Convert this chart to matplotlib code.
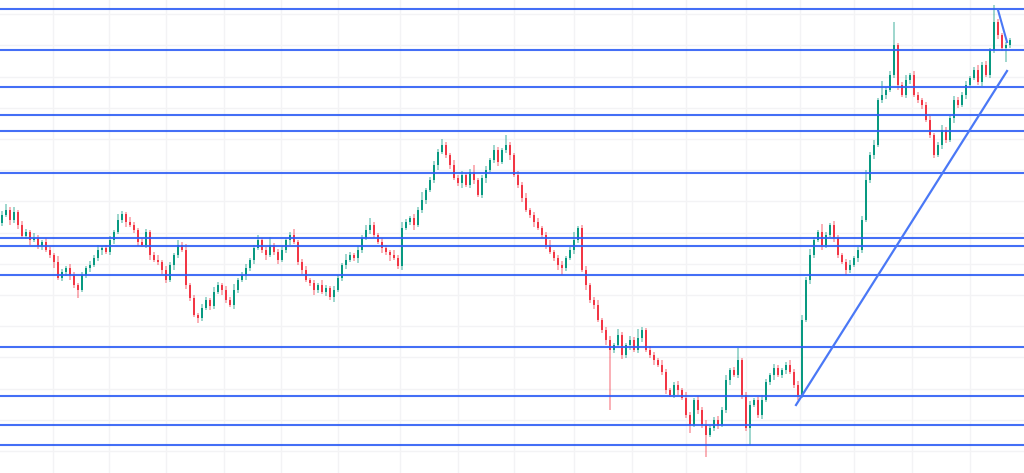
## Candlestick chart with support / resistance lines
import matplotlib.pyplot as plt
import numpy as np

# close prices, one per candle (open = previous close)
close = [258, 263, 253, 261, 248, 237, 241, 233, 235, 227,
         231, 223, 218, 211, 195, 201, 205, 198, 188, 183,
         198, 205, 208, 215, 223, 225, 221, 233, 241, 253,
         259, 251, 248, 243, 231, 228, 241, 218, 213, 211,
         203, 193, 208, 218, 228, 223, 188, 175, 158, 155,
         165, 173, 167, 181, 188, 183, 173, 168, 183, 193,
         198, 205, 213, 225, 233, 223, 218, 228, 221, 213,
         223, 233, 238, 231, 211, 203, 193, 190, 183, 188,
         181, 185, 176, 183, 195, 208, 213, 218, 215, 223,
         235, 243, 248, 238, 231, 225, 221, 218, 215, 207,
         245, 251, 255, 248, 263, 273, 283, 293, 308, 321,
         328, 318, 308, 295, 290, 298, 288, 301, 293, 278,
         295, 303, 313, 323, 311, 323, 328, 318, 298, 288,
         275, 263, 258, 251, 245, 238, 228, 221, 215, 208,
         205, 215, 223, 233, 245, 203, 188, 173, 168, 153,
         143, 133, 123, 128, 138, 118, 128, 133, 123, 135,
         143, 123, 118, 113, 108, 101, 83, 78, 88, 83,
         75, 58, 48, 73, 63, 48, 38, 45, 53, 48,
         63, 93, 103, 98, 113, 78, 45, 68, 73, 58,
         73, 91, 98, 105, 98, 103, 108, 101, 88, 78,
         153, 193, 218, 233, 241, 228, 238, 248, 235, 218,
         211, 203, 208, 215, 223, 253, 293, 318, 328, 373,
         378, 383, 398, 428, 388, 378, 393, 398, 378, 373,
         368, 353, 338, 318, 328, 343, 333, 355, 373, 368,
         378, 388, 395, 403, 391, 408, 398, 423, 451, 438,
         425, 428, 433]
first_open = 250

# wick lengths above / below the body
wick_up = [4, 6, 3, 5, 2, 4, 3, 2, 5, 3, 2, 4, 3, 2, 6, 3, 2, 4, 3, 2,
           3, 2, 4, 3, 5, 2, 3, 4, 2, 6, 3, 2, 5, 3, 2, 4, 3, 2, 3, 5,
           2, 4, 3, 2, 5, 3, 6, 2, 3, 2, 4, 3, 2, 5, 3, 2, 4, 3, 6, 2,
           3, 4, 2, 3, 5, 2, 3, 8, 2, 3, 4, 2, 3, 6, 2, 3, 4, 2, 3, 2,
           5, 3, 2, 4, 3, 2, 6, 3, 2, 4, 3, 5, 7, 3, 2, 4, 3, 2, 5, 3,
           6, 3, 2, 4, 3, 8, 2, 3, 4, 3, 6, 3, 2, 5, 3, 4, 2, 3, 7, 2,
           3, 4, 2, 5, 3, 2, 10, 3, 2, 4, 3, 5, 2, 3, 4, 2, 3, 5, 2, 3,
           4, 2, 3, 8, 2, 3, 4, 2, 3, 5, 2, 3, 4, 2, 6, 3, 2, 4, 3, 9,
           3, 2, 4, 3, 2, 5, 3, 2, 3, 4, 2, 6, 3, 2, 4, 3, 5, 2, 3, 4,
           3, 5, 2, 3, 12, 2, 3, 4, 2, 3, 5, 3, 2, 4, 3, 2, 3, 5, 3, 4,
           5, 3, 6, 3, 2, 8, 3, 2, 4, 3, 2, 3, 5, 2, 3, 4, 10, 3, 5, 2,
           14, 3, 4, 23, 2, 3, 5, 2, 4, 3, 2, 3, 4, 2, 3, 5, 3, 2, 4, 3,
           3, 4, 2, 3, 5, 3, 4, 2, 17, 3, 2, 3, 2]
wick_dn = [3, 2, 5, 3, 4, 2, 3, 5, 2, 3, 4, 2, 3, 6, 2, 3, 4, 5, 3, 8,
           2, 3, 4, 2, 3, 5, 2, 3, 4, 2, 3, 5, 2, 3, 4, 2, 3, 5, 2, 3,
           4, 3, 2, 5, 3, 2, 4, 3, 2, 5, 3, 2, 4, 3, 2, 5, 3, 2, 4, 3,
           2, 5, 3, 4, 2, 3, 5, 2, 3, 4, 2, 3, 5, 2, 3, 4, 2, 3, 5, 3,
           2, 4, 3, 5, 2, 3, 4, 2, 3, 5, 3, 2, 4, 3, 2, 5, 3, 6, 2, 3,
           4, 2, 3, 5, 2, 3, 4, 2, 3, 5, 2, 3, 4, 2, 3, 5, 2, 3, 4, 2,
           3, 5, 2, 3, 4, 2, 3, 5, 2, 3, 4, 2, 3, 5, 2, 3, 4, 2, 3, 5,
           7, 3, 2, 4, 3, 2, 5, 3, 4, 2, 3, 5, 60, 3, 2, 4, 3, 5, 2, 3,
           4, 2, 3, 5, 2, 3, 4, 2, 3, 5, 2, 3, 8, 2, 4, 3, 22, 2, 3, 4,
           2, 3, 5, 2, 3, 4, 3, 17, 2, 3, 4, 2, 3, 5, 2, 3, 4, 2, 3, 5,
           3, 2, 4, 3, 2, 5, 3, 2, 4, 3, 2, 5, 3, 2, 4, 3, 2, 3, 4, 2,
           3, 4, 2, 3, 5, 2, 3, 4, 2, 3, 4, 2, 3, 3, 2, 4, 3, 2, 5, 3,
           2, 4, 3, 2, 3, 4, 2, 3, 3, 4, 3, 14, 3]

# horizontal levels drawn on the chart
levels = [464, 423, 386, 358, 342, 300, 235, 227, 198, 126, 77, 48, 28]

# trendlines (candle index, price)
trend_x = [198.5, 251.25]
trend_y = [68, 402]
short_x = [249, 251.25]
short_y = [463, 431]

# faint time grid (candle index)
grid_x = [12.75, 26.75, 41, 55.5, 69.75, 84, 99.5, 114, 128, 143,
          157.5, 171, 186, 199.5, 213, 227.5, 242]

close = np.array(close, dtype=float)
opn = np.concatenate([[first_open], close[:-1]])
top = np.maximum(opn, close)
bot = np.minimum(opn, close)
high = top + np.array(wick_up)
low = bot - np.array(wick_dn)
idx = np.arange(len(close))

green = '#089981'
red = '#f23645'
cols = np.where(close >= opn, green, red)

fig = plt.figure(figsize=(10.24, 4.73), dpi=100)
ax = fig.add_axes([0, 0, 1, 1])

ax.vlines(idx, low, high, colors=cols, lw=1.1, alpha=0.5, zorder=2)
ax.bar(idx, np.maximum(top - bot, 1.0), bottom=bot, width=0.72,
       color=cols, linewidth=0, zorder=3)

for lv in levels:
    ax.axhline(lv, color='#2f5ff5', lw=1.5, alpha=0.9, zorder=4)

ax.plot(trend_x, trend_y, color='#4a78f6', lw=1.6, zorder=4)
ax.plot(short_x, short_y, color='#4a78f6', lw=1.5, zorder=4)

ax.set_xlim(-0.5, 255.5)
ax.set_ylim(0, 473)
ax.set_xticks(grid_x)
ax.set_yticks(np.arange(22, 473, 31.2))
ax.grid(color='#f3f3f5', lw=1.0, zorder=0)
ax.tick_params(length=0, labelbottom=False, labelleft=False)
for s in ax.spines.values():
    s.set_visible(False)

fig.savefig('out.png', dpi=100)
